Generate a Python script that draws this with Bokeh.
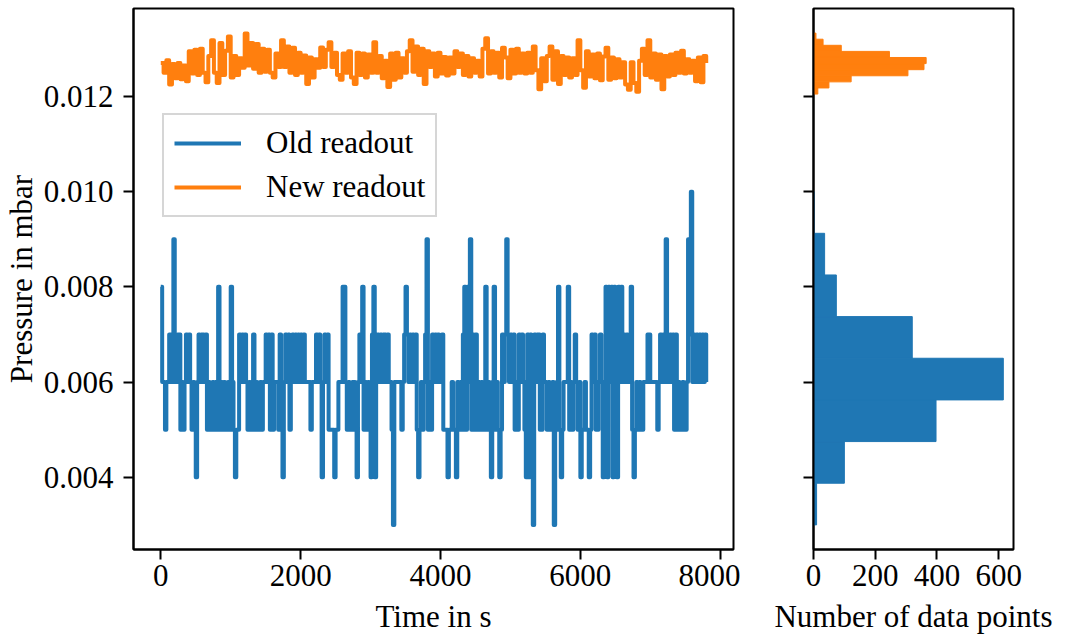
import numpy as np
from bokeh.plotting import figure
from bokeh.layouts import row
from bokeh.models import (Range1d, FixedTicker, Legend, LegendItem,
                          CustomJSTickFormatter, NumeralTickFormatter)
from bokeh.embed import file_html
from bokeh.resources import INLINE

# ---------------- data ----------------
OLD_DT_S = 20   # sampling step used for the old readout series (s)
NEW_DT_S = 40   # sampling step used for the new readout series (s)

# Old readout, pressure in units of 1e-3 mbar
old_readout_e3 = [
    8, 6, 6, 5, 6, 6, 7, 7, 6, 9, 7, 6, 7, 7, 5, 6, 5, 6, 7, 6, 7, 6, 5, 6, 5,
    4, 6, 7, 6, 7, 7, 6, 7, 5, 6, 5, 5, 6, 5, 6, 5, 8, 5, 6, 5, 6, 5, 5, 6, 5,
    8, 6, 5, 4, 5, 5, 7, 6, 7, 6, 7, 6, 5, 6, 5, 6, 7, 5, 6, 5, 5, 6, 5, 6, 6,
    7, 6, 7, 5, 7, 5, 6, 6, 6, 5, 7, 6, 4, 6, 7, 6, 7, 5, 6, 7, 6, 7, 6, 7, 6,
    7, 6, 7, 6, 6, 6, 6, 5, 6, 6, 6, 7, 6, 7, 6, 4, 6, 7, 6, 7, 5, 5, 5, 5, 4,
    5, 5, 6, 6, 6, 8, 8, 6, 5, 6, 5, 5, 6, 6, 5, 4, 6, 7, 6, 8, 5, 6, 5, 6, 5,
    4, 7, 8, 4, 6, 7, 6, 7, 6, 7, 7, 6, 7, 6, 6, 5, 3, 6, 6, 6, 6, 6, 5, 6, 7,
    8, 7, 6, 7, 6, 7, 6, 7, 5, 4, 5, 6, 5, 6, 7, 9, 5, 6, 5, 7, 6, 7, 6, 7, 6,
    6, 7, 5, 5, 5, 4, 5, 5, 6, 5, 5, 4, 6, 5, 6, 5, 7, 8, 5, 8, 6, 9, 5, 7, 5,
    7, 5, 6, 5, 6, 5, 6, 8, 5, 6, 5, 4, 6, 8, 5, 6, 5, 4, 5, 7, 6, 7, 9, 7, 6,
    7, 6, 7, 5, 6, 5, 7, 6, 7, 6, 5, 4, 7, 4, 7, 6, 3, 7, 6, 7, 7, 5, 5, 7, 6,
    6, 5, 6, 5, 5, 6, 3, 5, 6, 8, 5, 4, 5, 6, 6, 6, 8, 5, 6, 5, 6, 7, 6, 5, 6,
    4, 5, 5, 6, 5, 5, 4, 5, 7, 6, 7, 5, 5, 6, 7, 6, 4, 5, 8, 4, 8, 6, 8, 4, 8,
    6, 4, 8, 6, 8, 6, 7, 6, 7, 6, 7, 8, 5, 4, 5, 6, 5, 6, 5, 5, 6, 6, 6, 7, 7,
    6, 6, 6, 6, 6, 5, 6, 7, 6, 7, 6, 9, 7, 6, 7, 6, 7, 5, 7, 5, 6, 5, 5, 6, 5,
    5, 6, 9, 7, 10, 6, 7, 6, 7, 6, 7, 6, 7, 6, 7, 6,
]

# New readout, pressure in units of 1e-5 mbar
new_readout_e5 = [
    1270, 1250, 1276, 1225, 1268, 1238, 1270, 1236, 1265, 1232,
    1295, 1248, 1298, 1245, 1300, 1250, 1230, 1285, 1318, 1250,
    1228, 1312, 1245, 1296, 1326, 1240, 1285, 1245, 1280, 1260,
    1332, 1265, 1312, 1258, 1310, 1250, 1300, 1252, 1298, 1250,
    1240, 1290, 1262, 1318, 1262, 1305, 1250, 1302, 1245, 1292,
    1250, 1286, 1226, 1282, 1240, 1278, 1260, 1303, 1262, 1298,
    1314, 1262, 1292, 1245, 1235, 1290, 1250, 1295, 1240, 1226,
    1292, 1245, 1290, 1240, 1288, 1250, 1314, 1250, 1285, 1238,
    1275, 1220, 1290, 1235, 1292, 1240, 1280, 1250, 1295, 1318,
    1252, 1305, 1245, 1300, 1226, 1295, 1262, 1290, 1242, 1292,
    1248, 1283, 1244, 1282, 1248, 1295, 1262, 1290, 1245, 1285,
    1242, 1280, 1250, 1275, 1242, 1300, 1322, 1248, 1295, 1250,
    1292, 1240, 1302, 1282, 1238, 1298, 1248, 1300, 1250, 1290,
    1248, 1292, 1250, 1305, 1255, 1215, 1280, 1232, 1285, 1305,
    1235, 1295, 1226, 1285, 1245, 1282, 1240, 1280, 1245, 1318,
    1255, 1218, 1295, 1242, 1288, 1238, 1290, 1234, 1284, 1302,
    1235, 1282, 1238, 1278, 1240, 1272, 1225, 1214, 1272, 1228,
    1210, 1275, 1300, 1245, 1318, 1240, 1290, 1235, 1288, 1215,
    1285, 1242, 1288, 1245, 1292, 1250, 1296, 1248, 1278, 1250,
    1275, 1232, 1282, 1230, 1285, 1270,
]

# Histogram of the old readout (bin edges in 1e-6 mbar, counts)
old_hist_edges_e6 = [3000, 3875, 4750, 5625, 6500, 7375, 8250, 9125, 10000]
old_hist_counts = [10, 100, 397, 615, 320, 74, 36, 2]

# Histogram of the new readout (bin edges in 1e-6 mbar, counts)
new_hist_edges_e6 = [12050, 12178, 12306, 12434, 12562, 12690,
                     12818, 12946, 13074, 13202, 13330]
new_hist_counts = [14, 50, 122, 306, 358, 365, 246, 90, 31, 8]

y_ticks = [0.004, 0.006, 0.008, 0.010, 0.012]
time_ticks = [0, 2000, 4000, 6000, 8000]
count_ticks = [0, 200, 400, 600]

series_labels = ["Old readout", "New readout"]
colors = ["#1f77b4", "#ff7f0e"]

# ---------------- derived arrays ----------------
old_p = np.array(old_readout_e3) * 1e-3
old_t = np.arange(len(old_p)) * OLD_DT_S
new_p = np.array(new_readout_e5) * 1e-5
new_t = np.arange(len(new_p)) * NEW_DT_S

oe = np.array(old_hist_edges_e6) * 1e-6
ne = np.array(new_hist_edges_e6) * 1e-6

FONT = "Liberation Serif"
FS = "31px"

y_range = Range1d(0.002483, 0.013847)


def style(p):
    p.background_fill_color = "white"
    p.border_fill_color = "white"
    p.outline_line_color = "black"
    p.outline_line_width = 2
    p.outline_line_alpha = 1
    p.xgrid.visible = False
    p.ygrid.visible = False
    for ax in (p.xaxis, p.yaxis):
        ax.axis_line_width = 2
        ax.axis_line_color = "black"
        ax.major_tick_line_width = 2
        ax.major_tick_line_color = "black"
        ax.major_tick_out = 10
        ax.major_tick_in = 0
        ax.minor_tick_out = 0
        ax.minor_tick_in = 0
        ax.major_label_text_font = FONT
        ax.major_label_text_font_size = FS
        ax.major_label_text_color = "black"
        ax.axis_label_text_font = FONT
        ax.axis_label_text_font_size = FS
        ax.axis_label_text_font_style = "normal"
        ax.axis_label_text_color = "black"
    p.xaxis.major_label_standoff = 5
    p.xaxis.axis_label_standoff = 10
    p.yaxis.major_label_standoff = 10
    p.yaxis.axis_label_standoff = 2


# ---------------- left: time series ----------------
p1 = figure(width=740, height=637, output_backend="svg", toolbar_location=None,
            x_range=Range1d(-390, 8190), y_range=y_range,
            min_border_left=132, min_border_right=7,
            min_border_top=8, min_border_bottom=88)
style(p1)
p1.xaxis.ticker = FixedTicker(ticks=time_ticks)
p1.yaxis.ticker = FixedTicker(ticks=y_ticks)
p1.yaxis.formatter = NumeralTickFormatter(format="0.000")
p1.xaxis.axis_label = "Time in s"
p1.yaxis.axis_label = "Pressure in mbar"

r_old = p1.step(old_t, old_p, mode="after", line_color=colors[0],
                line_width=4, line_join="round")
r_new = p1.step(new_t, new_p, mode="after", line_color=colors[1],
                line_width=4, line_join="round")

legend = Legend(items=[LegendItem(label=series_labels[0], renderers=[r_old]),
                       LegendItem(label=series_labels[1], renderers=[r_new])],
                location=(29, 332))
legend.label_text_font = FONT
legend.label_text_font_size = FS
legend.label_text_color = "black"
legend.glyph_width = 67
legend.glyph_height = 36
legend.label_height = 36
legend.label_standoff = 25
legend.spacing = 8
legend.padding = 10
legend.margin = 0
legend.border_line_color = "#cccccc"
legend.border_line_width = 2
legend.border_line_alpha = 0.8
legend.background_fill_color = "white"
legend.background_fill_alpha = 0.8
p1.add_layout(legend)

# ---------------- right: histograms ----------------
p2 = figure(width=333, height=637, output_backend="svg", toolbar_location=None,
            x_range=Range1d(0, 648), y_range=y_range,
            min_border_left=73, min_border_right=60,
            min_border_top=8, min_border_bottom=88)
style(p2)
p2.xaxis.ticker = FixedTicker(ticks=count_ticks)
p2.yaxis.ticker = FixedTicker(ticks=y_ticks)
p2.yaxis.formatter = CustomJSTickFormatter(code="return ''")
p2.xaxis.axis_label = "Number of data points"

p2.quad(left=0, right=old_hist_counts, bottom=oe[:-1], top=oe[1:],
        fill_color=colors[0], line_color=colors[0], line_width=1)
p2.quad(left=0, right=new_hist_counts, bottom=ne[:-1], top=ne[1:],
        fill_color=colors[1], line_color=colors[1], line_width=1)

layout = row(p1, p2)
open("out.html", "w").write(file_html(layout, INLINE))
